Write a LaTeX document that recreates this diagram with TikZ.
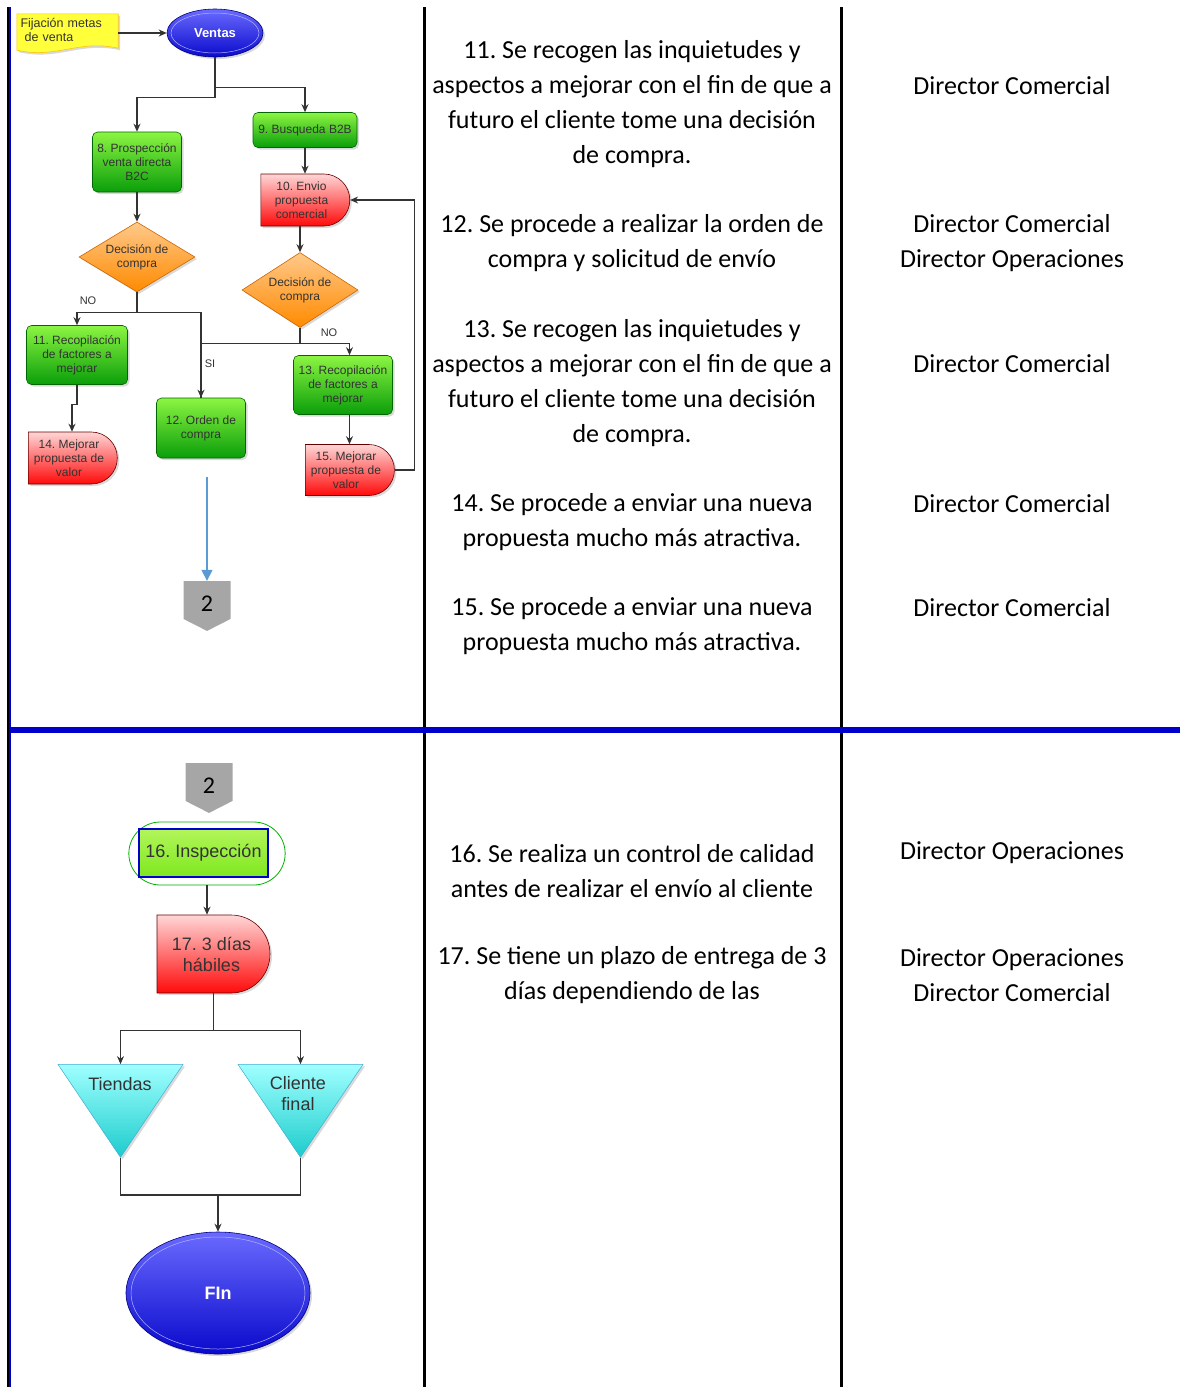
\documentclass[tikz,border=0pt]{standalone}
\usepackage{fontspec}
\setmainfont{Carlito}
\newfontfamily\arialfont{Liberation Sans}
\usetikzlibrary{shapes.geometric,shapes.misc,shapes.symbols,shadows,backgrounds,arrows.meta}
\frenchspacing

\definecolor{tablablue}{HTML}{0000CC}
\definecolor{lineagris}{HTML}{333333}
\definecolor{verdetop}{HTML}{8CF542}
\definecolor{verdebot}{HTML}{0A9E0A}
\definecolor{rojotop}{HTML}{FFD6D6}
\definecolor{rojobot}{HTML}{FF0A0A}
\definecolor{naranjatop}{HTML}{FFC98A}
\definecolor{naranjabot}{HTML}{FF8A00}
\definecolor{cyantop}{HTML}{A0FFFF}
\definecolor{cyanbot}{HTML}{1CCCCC}
\definecolor{azultop}{HTML}{6A6AFF}
\definecolor{azulbot}{HTML}{0A0ACC}
\definecolor{amarillo}{HTML}{FFFF3A}
\definecolor{grisconector}{HTML}{A6A6A6}
\definecolor{azulclaro}{HTML}{5B9BD5}
\definecolor{limatop}{HTML}{B2F55A}
\definecolor{limabot}{HTML}{7EE81E}

\newcommand{\bajado}[1]{\raisebox{-4pt}[\height][\depth]{#1}}

\tikzset{
  flowtext/.style={font=\arialfont\fontsize{12}{14}\selectfont, text=black!80, align=center, inner sep=0pt},
  sombra/.style={drop shadow={opacity=0.3, shadow xshift=2pt, shadow yshift=-2pt}},
  procbox/.style={flowtext, rectangle, rounded corners=5pt, draw=green!40!black, line width=0.6pt,
    top color=verdetop, bottom color=verdebot, sombra},
  delaybox/.style={flowtext, rounded rectangle, rounded rectangle left arc=none, draw=red!40!black,
    line width=0.6pt, top color=rojotop, bottom color=rojobot, sombra},
  decision/.style={flowtext, diamond, aspect=1.65, draw=orange!80!black, line width=0.6pt,
    top color=naranjatop, bottom color=naranjabot, minimum width=116pt, minimum height=70pt, sombra},
  terminal/.style={ellipse, draw=blue!50!black, line width=0.6pt, top color=azultop, bottom color=azulbot,
    text=white, sombra},
  destino/.style={isosceles triangle, shape border rotate=270, isosceles triangle stretches,
    inner sep=0pt, top color=cyantop, bottom color=cyanbot, draw=cyan!70!gray, line width=0.5pt,
    minimum width=125pt, minimum height=93pt, sombra},
  conector/.style={signal, signal to=south, signal pointer angle=126, fill=grisconector,
    minimum width=47pt, minimum height=41pt, inner sep=0pt, font=\fontsize{24}{24}\selectfont},
  etiqueta/.style={font=\arialfont\fontsize{11}{13}\selectfont, text=black!80},
  arr/.style={draw=lineagris, line width=1.1pt, -{Stealth[length=8pt,width=7pt]}},
  linea/.style={draw=lineagris, line width=1.1pt},
  desc/.style={font=\fontsize{26}{35}\selectfont, align=center},
  rol/.style={font=\fontsize{26}{35}\selectfont, align=center}
}

\begin{document}
\begin{tikzpicture}[x=1pt, y=-1pt]
\useasboundingbox (0,0) rectangle (1180,1387);

% table lines
\draw[black, line width=2pt] (7.7,7) -- (7.7,1387);
\draw[tablablue, line width=2pt] (9.7,7) -- (9.7,1387);
\draw[black, line width=3pt] (424.7,7) -- (424.7,1387);
\draw[black, line width=3.2pt] (841.3,7) -- (841.3,1387);
\draw[tablablue, line width=6pt] (8.7,729.7) -- (1180,729.7);

% upper flow chart
\node[flowtext, font=\arialfont\fontsize{12.5}{14.5}\selectfont, align=left, minimum width=101pt,
  minimum height=32pt, text width=94pt] (fijacion) at (67.5,30) {Fijación metas\\\ de venta};
\begin{scope}[on background layer]
\draw[draw=yellow!60!orange, fill=amarillo, line width=0.6pt, sombra]
  (fijacion.north west) -- (fijacion.north east) -- ([yshift=-2pt]fijacion.south east)
  .. controls +(-40,-9) and +(40,9) .. ([yshift=-4pt]fijacion.south west) -- cycle;
\end{scope}

\node[terminal, minimum width=96pt, minimum height=48pt,
  font=\arialfont\bfseries\fontsize{13}{15}\selectfont] (ventas) at (215,33) {Ventas};
\draw[white!70!blue, line width=0.5pt] (ventas.center) ellipse [x radius=44pt, y radius=20pt];

\node[procbox, minimum width=104pt, minimum height=35pt] (busqueda) at (305,130) {9. Busqueda B2B};
\node[procbox, minimum width=89pt, minimum height=60pt] (prospeccion) at (137,162)
  {8. Prospección\\venta directa\\B2C};
\node[delaybox, minimum width=89pt, minimum height=52pt] (envio) at (301.5,200)
  {10. Envio\\propuesta\\comercial};
\node[decision] (decision1) at (137,257) {Decisión de\\compra};
\node[decision, minimum height=75pt] (decision2) at (300,290) {Decisión de\\compra};
\node[procbox, minimum width=101pt, minimum height=59pt] (recop11) at (77,355)
  {11. Recopilación\\de factores a\\mejorar};
\node[procbox, minimum width=89pt, minimum height=60pt] (orden) at (201,428) {12. Orden de\\compra};
\node[procbox, minimum width=99pt, minimum height=59pt] (recop13) at (343,385)
  {13. Recopilación\\de factores a\\mejorar};
\node[delaybox, minimum width=89pt, minimum height=52pt] (mejorar14) at (69,458)
  {14. Mejorar\\propuesta de\\valor};
\node[delaybox, minimum width=89pt, minimum height=51pt] (mejorar15) at (346,470)
  {15. Mejorar\\propuesta de\\valor};
\node[conector] (conA) at (207,600) {\bajado{2}};
\coordinate (inicioazul) at (207,477);

\node[etiqueta] (no1) at (88,301) {NO};
\node[etiqueta] (si1) at (210,364) {SI};
\node[etiqueta] (no2) at (329,333) {NO};

\draw[arr] (fijacion.east |- ventas.west) -- (ventas.west);
\draw[arr] (ventas.south) -- ++(0,40) -| (prospeccion.north);
\draw[arr] (ventas.south) ++(0,30) -| (busqueda.north);
\draw[arr] (busqueda.south) -- (busqueda.south |- envio.north);
\draw[arr] (prospeccion.south) -- (decision1.north);
\draw[arr] (decision2.north |- envio.south) -- (decision2.north);
\draw[arr] (decision1.south) -- ++(0,20) -| (recop11.north);
\draw[arr] (decision1.south) ++(0,20) -| (orden.north);
\draw[linea] (decision2.south) -- ++(0,16) -| (orden.north);
\draw[arr] (decision2.south) ++(0,16) -| ([xshift=3.5pt]mejorar15.north |- recop13.north);
\draw[arr] (recop11.south) -- ++(0,20) -| ([xshift=3pt]mejorar14.north);
\draw[arr] ([xshift=3.5pt]mejorar15.north |- recop13.south) -- ([xshift=3.5pt]mejorar15.north);
\draw[arr] (mejorar15.east) -- ++(20,0) |- (envio.east);
\draw[draw=azulclaro, line width=1.1pt, -{Triangle[length=11pt,width=11pt]}] (inicioazul) -- (conA.north);

% lower flow chart
\node[conector] (conB) at (209,782) {\bajado{2}};
\node[rounded rectangle, draw=green!70!black, fill=white, line width=0.8pt,
  minimum width=163pt, minimum height=63pt] (inspeccion) at (207,853.5) {};
\node[rectangle, draw=blue!80!black, line width=1.3pt, top color=limatop, bottom color=limabot,
  minimum width=129pt, minimum height=48pt, font=\arialfont\fontsize{18}{21}\selectfont, text=black!80]
  (inspeccionbox) at (203.5,853) {16. Inspección};
\node[delaybox, minimum width=113pt, minimum height=78pt, font=\arialfont\fontsize{18}{21}\selectfont]
  (dias) at (211.5,954) {17. 3 días\\hábiles};
\node[destino, anchor=apex] (tiendas) at (120.5,1158) {};
\node[destino, anchor=apex] (cliente) at (300.5,1158) {};
\node[flowtext, font=\arialfont\fontsize{18}{21}\selectfont] (tiendastxt) at (120,1084) {Tiendas};
\node[flowtext, font=\arialfont\fontsize{18}{21}\selectfont] (clientetxt) at (298,1094) {Cliente\\final};
\node[terminal, minimum width=184pt, minimum height=122pt,
  font=\arialfont\bfseries\fontsize{18}{21}\selectfont] (fin) at (218,1293) {FIn};
\draw[white!70!blue, line width=0.5pt] (fin.center) ellipse [x radius=87pt, y radius=56pt];

\draw[arr] (inspeccion.south) -- (inspeccion.south |- dias.north);
\draw[arr] ([xshift=2pt]dias.south) -- ++(0,37) -| (tiendas.north);
\draw[arr] ([xshift=2pt]dias.south) ++(0,37) -| (cliente.north);
\draw[linea] (tiendas.apex) -- ++(0,37) -| (cliente.apex);
\draw[arr, line width=2.2pt] (fin.north) ++(0,-37) -- (fin.north);

% descriptions
\node[desc] (d11) at (632,104.5) {11. Se recogen las inquietudes y\\aspectos a mejorar con el fin de que a\\futuro el cliente tome una decisión\\de compra.};
\node[desc] (d12) at (632,243.5) {12. Se procede a realizar la orden de\\compra y solicitud de envío};
\node[desc] (d13) at (632,383) {13. Se recogen las inquietudes y\\aspectos a mejorar con el fin de que a\\futuro el cliente tome una decisión\\de compra.};
\node[desc] (d14) at (632,522) {14. Se procede a enviar una nueva\\propuesta mucho más atractiva.};
\node[desc] (d15) at (632,626.5) {15. Se procede a enviar una nueva\\propuesta mucho más atractiva.};
\node[desc] (d16) at (632,871.5) {16. Se realiza un control de calidad\\antes de realizar el envío al cliente};
\node[desc] (d17) at (632,975.5) {17. Se tiene un plazo de entrega de 3\\días dependiendo de las};

% roles
\node[rol] (r11) at (1012,86) {Director Comercial};
\node[rol] (r12) at (1012,243.5) {Director Comercial\\Director Operaciones};
\node[rol] (r13) at (1012,364) {Director Comercial};
\node[rol] (r14) at (1012,504) {Director Comercial};
\node[rol] (r15) at (1012,608) {Director Comercial};
\node[rol] (r16) at (1012,853) {Director Operaciones};
\node[rol] (r17) at (1012,975.5) {Director Operaciones\\Director Comercial};
\end{tikzpicture}
\end{document}
